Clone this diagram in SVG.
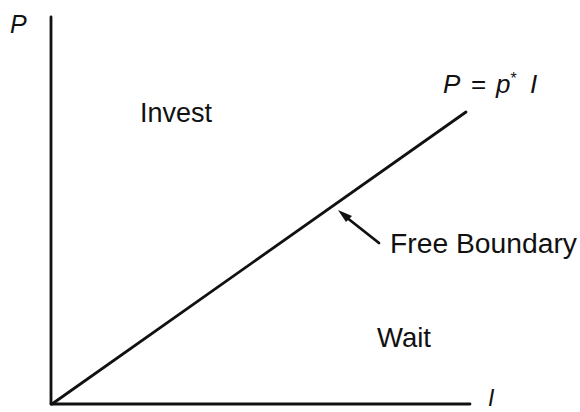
<svg xmlns="http://www.w3.org/2000/svg" width="580" height="412" viewBox="0 0 580 412">
<defs>
<style>
.ln{stroke:#111;stroke-width:2.8;fill:none;stroke-linecap:round}
.t{font-family:"Liberation Sans",Arial,sans-serif;fill:#111}
.i{font-style:italic}
</style>
</defs>
<rect width="580" height="412" fill="#fff"/>
<g id="axes">
<line class="ln" x1="51" y1="17" x2="51" y2="404"/>
<line class="ln" x1="51" y1="404" x2="470" y2="404"/>
<text class="t i" x="10" y="33" font-size="25">P</text>
<text class="t i" x="488" y="406" font-size="23">I</text>
</g>
<g id="boundary">
<line class="ln" x1="52" y1="404" x2="466" y2="112"/>
<text class="t" x="443" y="93" font-size="26"><tspan class="i">P</tspan><tspan x="471">=</tspan><tspan class="i" x="496">p</tspan><tspan dy="-9" font-size="16">*</tspan><tspan class="i" dy="9" x="530">I</tspan></text>
</g>
<g id="invest"><text class="t" x="140" y="122" font-size="27">Invest</text></g>
<g id="wait"><text class="t" x="377" y="347" font-size="27.5">Wait</text></g>
<g id="free"><text class="t" x="390" y="253" font-size="27" textLength="187" lengthAdjust="spacingAndGlyphs">Free Boundary</text></g>
<g id="connectors">
<line class="ln" x1="379" y1="243" x2="346" y2="217"/>
<path d="M338,210 L352,216 L346,222 z" fill="#111"/>
</g>
</svg>
